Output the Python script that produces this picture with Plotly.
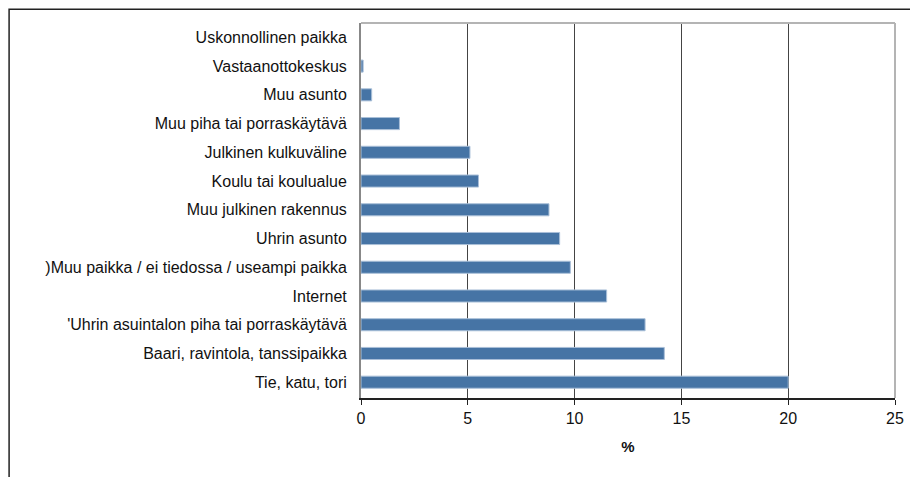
import plotly.graph_objects as go

places = [
    'Tie, katu, tori',
    'Baari, ravintola, tanssipaikka',
    "'Uhrin asuintalon piha tai porraskäytävä",
    'Internet',
    ')Muu paikka / ei tiedossa / useampi paikka',
    'Uhrin asunto',
    'Muu julkinen rakennus',
    'Koulu tai koulualue',
    'Julkinen kulkuväline',
    'Muu piha tai porraskäytävä',
    'Muu asunto',
    'Vastaanottokeskus',
    'Uskonnollinen paikka',
]
shares = [20.0, 14.2, 13.3, 11.5, 9.8, 9.3, 8.8, 5.5, 5.1, 1.8, 0.5, 0.1, 0.0]
x_ticks = [0, 5, 10, 15, 20, 25]

fig = go.Figure()
fig.add_trace(go.Bar(
    y=places, x=shares, orientation='h',
    marker=dict(color='#4674A5',
                line=dict(color='#A9BFD8', width=[1 if v > 0 else 0 for v in shares])),
    width=0.42,
))

fig.update_layout(
    width=918, height=477,
    margin=dict(l=353, r=31, t=15, b=87),
    paper_bgcolor='white', plot_bgcolor='white',
    font=dict(family='Liberation Sans, Arial, sans-serif', size=16, color='#111'),
    showlegend=False,
    shapes=[
        # outer frame of the picture
        dict(type='rect', xref='paper', yref='paper',
             x0=-0.659, x1=1.3, y0=-0.5, y1=1.037,
             line=dict(color='#222', width=1.5), layer='below'),
        # light frame on top and right of plot area
        dict(type='line', xref='x domain', yref='y domain',
             x0=0, x1=1, y0=1, y1=1, line=dict(color='#B4B4B4', width=2)),
        dict(type='line', xref='x domain', yref='y domain',
             x0=1, x1=1, y0=0, y1=1, line=dict(color='#B4B4B4', width=2)),
    ],
)

fig.update_xaxes(
    range=[0, 25], tickvals=x_ticks, automargin=False,
    showgrid=True, gridcolor='#444', gridwidth=1,
    showline=True, linecolor='#222', linewidth=1.5,
    ticks='outside', ticklen=5, tickcolor='#222',
    zeroline=False,
    title=dict(text='<b>%</b>', font=dict(size=15), standoff=16),
)
fig.update_yaxes(
    automargin=False,
    showgrid=False, zeroline=False,
    showline=True, linecolor='#888', linewidth=2,
    ticks='', ticklabelstandoff=9,
    range=[-0.55, 12.5],
)

fig.write_html('out.html')
